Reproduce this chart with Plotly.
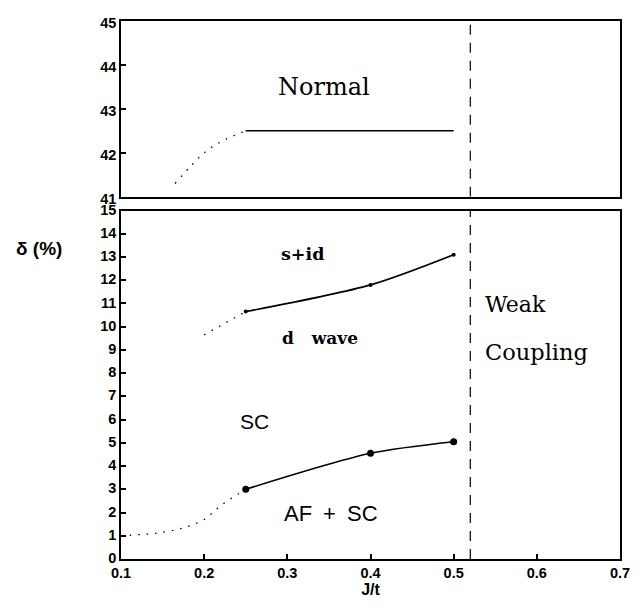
import plotly.graph_objects as go

# ---- data ----
normal_x = [0.25, 0.5]
normal_y = [42.5, 42.5]
normal_dot_x = [0.165, 0.185, 0.2, 0.22, 0.25]
normal_dot_y = [41.3, 41.72, 42.0, 42.25, 42.5]

sid_x = [0.25, 0.4, 0.5]
sid_y = [10.65, 11.8, 13.1]
sid_dot_x = [0.2, 0.25]
sid_dot_y = [9.65, 10.65]

afsc_x = [0.25, 0.4, 0.5]
afsc_y = [3.0, 4.55, 5.05]
afsc_dot_x = [0.1, 0.15, 0.18, 0.2, 0.22, 0.25]
afsc_dot_y = [1.0, 1.15, 1.4, 1.7, 2.3, 3.0]

weak_x = [0.52, 0.52]
top_range = [41, 45]
bot_range = [0, 15]
x_ticks = [0.1, 0.2, 0.3, 0.4, 0.5, 0.6, 0.7]

SERIF = "DejaVu Serif"
SANS = "Liberation Sans"

fig = go.Figure()

# top panel
fig.add_trace(go.Scatter(x=normal_x, y=normal_y, mode="lines", xaxis="x2", yaxis="y2",
                         line=dict(color="black", width=1.5)))
fig.add_trace(go.Scatter(x=normal_dot_x, y=normal_dot_y, mode="lines", xaxis="x2", yaxis="y2",
                         line=dict(color="black", width=1.3, dash="1.5px,7px", shape="spline")))
fig.add_trace(go.Scatter(x=weak_x, y=top_range, mode="lines", xaxis="x2", yaxis="y2",
                         line=dict(color="black", width=1.2, dash="10px,8px")))

# bottom panel
fig.add_trace(go.Scatter(x=sid_x, y=sid_y, mode="lines+markers",
                         line=dict(color="black", width=1.6, shape="spline", smoothing=0.8),
                         marker=dict(color="black", size=4)))
fig.add_trace(go.Scatter(x=sid_dot_x, y=sid_dot_y, mode="lines",
                         line=dict(color="black", width=1.3, dash="1.5px,7px")))
fig.add_trace(go.Scatter(x=afsc_x, y=afsc_y, mode="lines+markers",
                         line=dict(color="black", width=1.6, shape="spline", smoothing=0.8),
                         marker=dict(color="black", size=7)))
fig.add_trace(go.Scatter(x=afsc_dot_x, y=afsc_dot_y, mode="lines",
                         line=dict(color="black", width=1.3, dash="1.5px,7px", shape="spline")))
fig.add_trace(go.Scatter(x=weak_x, y=bot_range, mode="lines",
                         line=dict(color="black", width=1.2, dash="10px,8px")))

axis_common = dict(showline=True, linecolor="black", linewidth=1.6, mirror=True,
                   showgrid=False, zeroline=False, ticks="inside", tickcolor="black",
                   ticklen=5, tickwidth=1.5,
                   tickfont=dict(family=SANS, size=14.5, color="black", weight="bold"))

fig.update_layout(
    width=642, height=606,
    margin=dict(l=121, r=14, t=19, b=42),
    paper_bgcolor="white", plot_bgcolor="white",
    showlegend=False,
    xaxis=dict(axis_common, range=[0.1, 0.7], tickvals=x_ticks,
               ticktext=[f"{v:.1f}" for v in x_ticks], domain=[0, 1], anchor="y",
               title=dict(text="J/t", standoff=2,
                          font=dict(family=SANS, size=16, color="black", weight="bold"))),
    yaxis=dict(axis_common, range=bot_range, dtick=1, domain=[0, 0.6477], anchor="x",
               ticklabelshift=-1),
    xaxis2=dict(axis_common, range=[0.1, 0.7], ticks="", showticklabels=False,
                domain=[0, 1], anchor="y2"),
    yaxis2=dict(axis_common, range=top_range, dtick=1, domain=[0.6734, 1], anchor="x2",
                ticklabelshift=2),
)

ann = []
def label(text, x, y, family, size, ref="", bold=False, xanchor="center"):
    ann.append(dict(text=text, x=x, y=y, xref="x" + ref, yref="y" + ref, showarrow=False,
                    xanchor=xanchor, yanchor="middle",
                    font=dict(family=family, size=size, color="black",
                              weight="bold" if bold else "normal")))

label("Normal", 0.344, 43.5, SERIF, 24, ref="2")
label("s+id", 0.318, 13.15, SERIF, 17.5, bold=True)
label("d\u00a0\u00a0\u00a0wave", 0.339, 9.53, SERIF, 17, bold=True)
label("Weak", 0.535, 10.94, SERIF, 22, xanchor="left")
label("Coupling", 0.535, 8.9, SERIF, 22.5, xanchor="left")
label("SC", 0.26, 5.91, SANS, 21)
label("AF\u2002+\u2002SC", 0.353, 1.96, SANS, 22)

ann.append(dict(text="\u03b4 (%)", x=(38 - 121) / (642 - 121 - 14), y=(564 - 249) / (564 - 19),
                xref="paper", yref="paper", showarrow=False, xanchor="center", yanchor="middle",
                font=dict(family=SANS, size=19, color="black", weight="bold")))

fig.update_layout(annotations=ann)
fig.write_html("out.html")
